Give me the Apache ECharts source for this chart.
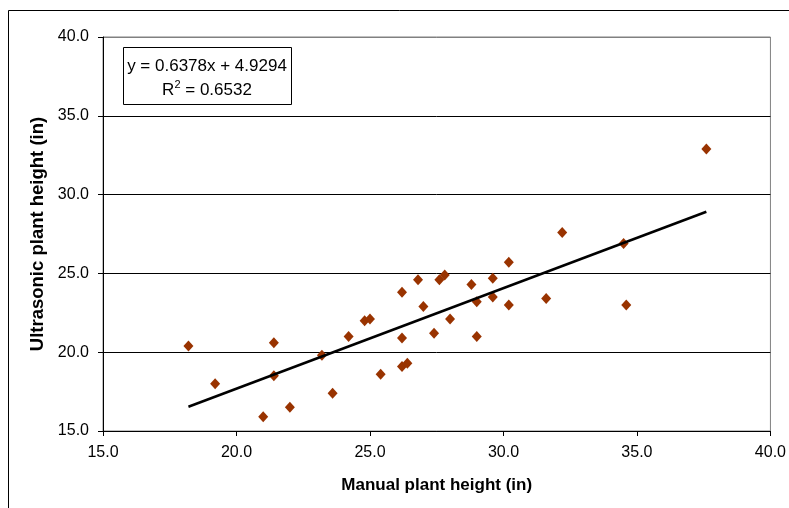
<!DOCTYPE html>
<html>
<head>
<meta charset="utf-8">
<script src="https://cdn.jsdelivr.net/npm/echarts@6/dist/echarts.min.js"></script>
<style>html,body{margin:0;padding:0;background:#fff;}#c{width:789px;height:508px;}</style>
</head>
<body>
<div id="c"></div>
<script>
// Manual plant height (x) vs Ultrasonic plant height (y), inches
var manualHeight = [18.2, 19.2, 21.0, 21.4, 21.4, 22.0, 23.2, 23.6, 24.2, 24.8, 25.0, 25.4,
  26.2, 26.2, 26.2, 26.4, 26.8, 27.0, 27.4, 27.6, 27.8, 28.0, 28.8, 29.0, 29.0,
  29.6, 29.6, 30.2, 30.2, 31.6, 32.2, 34.5, 34.6, 37.6];
var ultrasonicHeight = [20.4, 18.0, 15.9, 20.6, 18.5, 16.5, 19.8, 17.4, 21.0, 22.0, 22.1, 18.6,
  23.8, 20.9, 19.1, 19.3, 24.6, 22.9, 21.2, 24.6, 24.9, 22.1, 24.3, 23.2, 21.0,
  24.7, 23.5, 25.7, 23.0, 23.4, 27.6, 26.9, 23.0, 32.9];
var trendSlope = 0.6378;
var trendIntercept = 4.9294;
var rSquared = 0.6532;
var axisTicks = [15, 20, 25, 30, 35, 40];

var points = manualHeight.map(function (x, i) { return [x, ultrasonicHeight[i]]; });
var xMin = Math.min.apply(null, manualHeight), xMax = Math.max.apply(null, manualHeight);
var trend = [[xMin, trendSlope * xMin + trendIntercept], [xMax, trendSlope * xMax + trendIntercept]];

var FONT = '"Liberation Sans", Arial, sans-serif';
var chart = echarts.init(document.getElementById('c'), null, {renderer: 'canvas'});
chart.setOption({
  animation: false,
  backgroundColor: '#fff',
  grid: {left: 103, right: 16, top: 37, bottom: 77, show: true, borderColor: '#808080', borderWidth: 1, backgroundColor: 'transparent'},
  xAxis: {
    type: 'value', min: axisTicks[0], max: axisTicks[axisTicks.length - 1], interval: 5,
    name: 'Manual plant height (in)', nameLocation: 'middle', nameGap: 46,
    nameTextStyle: {fontFamily: FONT, fontSize: 17, fontWeight: 'bold', color: '#000'},
    axisLine: {show: true, onZero: false, lineStyle: {color: '#000', width: 1}},
    axisTick: {show: true, inside: false, length: 5, lineStyle: {color: '#000'}},
    axisLabel: {fontFamily: FONT, fontSize: 16, color: '#000', margin: 14, formatter: function (v) { return v.toFixed(1); }},
    splitLine: {show: false}
  },
  yAxis: {
    type: 'value', min: axisTicks[0], max: axisTicks[axisTicks.length - 1], interval: 5,
    name: 'Ultrasonic plant height (in)', nameLocation: 'middle', nameGap: 50,
    nameTextStyle: {fontFamily: FONT, fontSize: 18.5, fontWeight: 'bold', color: '#000'},
    axisLine: {show: true, onZero: false, lineStyle: {color: '#000', width: 1}},
    axisTick: {show: true, inside: false, length: 5, lineStyle: {color: '#000'}},
    axisLabel: {fontFamily: FONT, fontSize: 16, color: '#000', margin: 14, formatter: function (v) { return v.toFixed(1); }},
    splitLine: {show: true, lineStyle: {color: ['#000', '#000', '#000', '#000', '#000', '#808080'], width: 1}}
  },
  series: [
    {
      type: 'scatter', data: points, symbol: 'diamond', symbolSize: [10, 11],
      itemStyle: {color: '#993300', opacity: 1}, z: 3
    },
    {
      type: 'line', data: trend, showSymbol: false, symbol: 'none',
      lineStyle: {color: '#000', width: 2.5}, z: 4, silent: true
    }
  ],
  graphic: [
    {type: 'rect', shape: {x: 8.5, y: 10.5, width: 900, height: 600}, style: {fill: 'none', stroke: '#000', lineWidth: 1}, silent: true, z: 100},
    {type: 'rect', shape: {x: 123.5, y: 47.5, width: 168, height: 57}, style: {fill: '#fff', stroke: '#000', lineWidth: 1}, z: 100},
    {type: 'text', x: 207, y: 66, style: {text: 'y = ' + trendSlope.toFixed(4) + 'x + ' + trendIntercept.toFixed(4), font: '17px ' + FONT, fill: '#000', align: 'center', verticalAlign: 'middle'}, z: 101},
    {type: 'text', x: 207, y: 89, style: {
      text: '{r|R}{s|2}{r| = ' + rSquared.toFixed(4) + '}', align: 'center', verticalAlign: 'middle',
      rich: {r: {font: '17px ' + FONT, fill: '#000', verticalAlign: 'bottom'}, s: {font: '11px ' + FONT, fill: '#000', verticalAlign: 'top', padding: [0, 0, 8, 0]}}
    }, z: 101}
  ]
});
</script>
</body>
</html>
